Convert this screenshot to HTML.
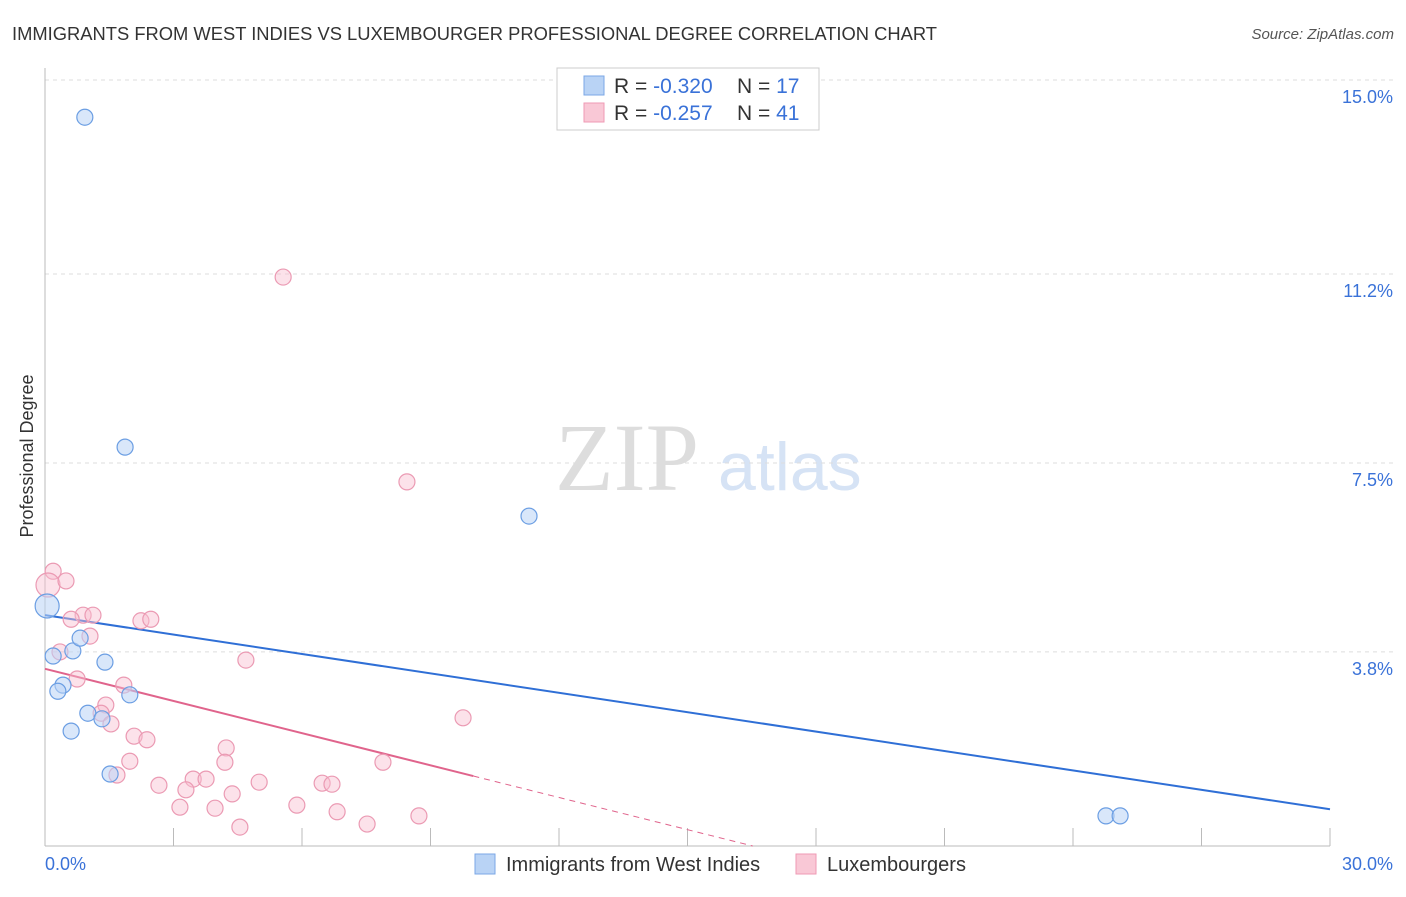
<!DOCTYPE html>
<html><head><meta charset="utf-8"><style>
body{margin:0;background:#fff;font-family:"Liberation Sans",sans-serif;}
</style></head><body>
<svg id="c" width="1406" height="892" xmlns="http://www.w3.org/2000/svg">
<text x="12" y="40" font-size="18" fill="#333" textLength="925" lengthAdjust="spacingAndGlyphs">IMMIGRANTS FROM WEST INDIES VS LUXEMBOURGER PROFESSIONAL DEGREE CORRELATION CHART</text>
<text x="1394" y="39" font-size="15" fill="#555" text-anchor="end" font-style="italic">Source: ZipAtlas.com</text>
<text x="33" y="456" font-size="18" fill="#333" text-anchor="middle" transform="rotate(-90 33 456)">Professional Degree</text>
<text x="555" y="490" font-size="96" fill="#ddd" font-family="Liberation Serif">ZIP</text>
<text x="718" y="490" font-size="68" fill="#d6e3f5">atlas</text>
<g id="grid"></g><g id="axes"></g><g id="lines"></g><g id="pts"></g>
<g>
<rect x="557" y="68" width="262" height="62" fill="#fff" stroke="#ccc"/>
<rect x="584" y="76" width="20" height="19" fill="#b9d3f5" stroke="#7ba7e6"/>
<rect x="584" y="103" width="20" height="19" fill="#f9c8d6" stroke="#ef9ab4"/>
<text x="614" y="93" font-size="21" fill="#333">R = <tspan fill="#3a72d8">-0.320</tspan><tspan x="737">N = </tspan><tspan fill="#3a72d8">17</tspan></text>
<text x="614" y="120" font-size="21" fill="#333">R = <tspan fill="#3a72d8"> -0.257</tspan><tspan x="737">N = </tspan><tspan fill="#3a72d8">41</tspan></text>
</g>
<g>
<rect x="475" y="854" width="20" height="20" fill="#b9d3f5" stroke="#7ba7e6"/>
<text x="506" y="871" font-size="20" fill="#333">Immigrants from West Indies</text>
<rect x="796" y="854" width="20" height="20" fill="#f9c8d6" stroke="#ef9ab4"/>
<text x="827" y="871" font-size="20" fill="#333">Luxembourgers</text>
</g>
</svg>
<script>
const yTicks=[3.8,7.5,11.2,15.0];
const yTickLabels=["3.8%","7.5%","11.2%","15.0%"];
const blueX=[0.93,1.87,11.3,0.05,0.19,0.65,0.82,1.4,0.42,0.3,1.98,1.0,1.33,0.61,1.52,24.77,25.1];
const blueY=[14.27,7.81,6.46,4.70,3.72,3.82,4.07,3.6,3.15,3.03,2.96,2.6,2.49,2.25,1.41,0.59,0.59];
const pinkX=[5.56,8.45,0.19,0.07,0.49,0.89,1.12,0.61,2.24,2.47,1.05,0.35,4.69,0.75,1.84,1.42,1.31,1.54,9.76,2.08,2.38,4.23,4.2,1.98,7.89,1.68,3.46,3.76,2.66,3.29,5.0,6.47,6.7,4.37,3.15,3.97,5.88,6.82,8.73,7.52,4.55];
const pinkY=[11.14,7.13,5.38,5.11,5.19,4.52,4.52,4.44,4.41,4.44,4.11,3.8,3.64,3.27,3.15,2.76,2.6,2.39,2.51,2.15,2.08,1.92,1.64,1.66,1.64,1.39,1.31,1.31,1.19,1.1,1.25,1.23,1.21,1.02,0.76,0.74,0.8,0.67,0.59,0.43,0.37];
const blueFit=[4.52,0.72];
const pinkFit=[3.47,-0.21];
const X=v=>45+v/30*1285, Y=v=>846-v*51.07;
const NS="http://www.w3.org/2000/svg";
function mk(p,t,a){const e=document.createElementNS(NS,t);for(const k in a)e.setAttribute(k,a[k]);document.getElementById(p).appendChild(e);return e;}
yTicks.forEach((t,i)=>{
 let l=mk('grid','line',{x1:45,x2:1394,y1:Y(t),y2:Y(t),stroke:'#ddd','stroke-dasharray':'4,4'});
 
 
 let tx=mk('grid','text',{x:1393,y:Y(t)+23,'font-size':18,fill:'#3a72d8','text-anchor':'end'});
 tx.textContent=yTickLabels[i];
 
 
});
let ax=mk('axes','line',{x1:45,x2:1330,y1:846,y2:846,stroke:'#bbb'});


let ay=mk('axes','line',{x1:45,x2:45,y1:68,y2:846,stroke:'#bbb'});


for(let i=1;i<=10;i++){let t=mk('axes','line',{x1:X(i*3),x2:X(i*3),y1:828,y2:846,stroke:'#bbb'});
 
 }
[["0.0%",45,'start'],["30.0%",1393,'end']].forEach(d=>{let t=mk('axes','text',{x:d[1],y:870,'font-size':18,fill:'#3a72d8','text-anchor':d[2]});t.textContent=d[0];
 
 });
let bl=mk('lines','line',{x1:X(0),y1:Y(blueFit[0]),x2:X(30),y2:Y(blueFit[1]),stroke:'#2f6fd6','stroke-width':2});


const pz=-pinkFit[0]/pinkFit[1];
let pl=mk('lines','line',{x1:X(0),y1:Y(pinkFit[0]),x2:X(10),y2:Y(pinkFit[0]+pinkFit[1]*10),stroke:'#e0648c','stroke-width':2});


let pd=mk('lines','line',{x1:X(10),y1:Y(pinkFit[0]+pinkFit[1]*10),x2:X(pz),y2:Y(0),stroke:'#e0648c','stroke-width':1,'stroke-dasharray':'6,5'});


pinkX.forEach((x,i)=>{let c=mk('pts','circle',{cx:X(x),cy:Y(pinkY[i]),r:i==3?12:8,fill:'rgba(249,190,208,0.45)',stroke:'#eb9ab3','stroke-width':1.2});
 
 });
blueX.forEach((x,i)=>{let c=mk('pts','circle',{cx:X(x),cy:Y(blueY[i]),r:i==3?12:8,fill:'rgba(185,211,245,0.55)',stroke:'#6b9ee3','stroke-width':1.2});
 
 });
</script>
</body></html>
